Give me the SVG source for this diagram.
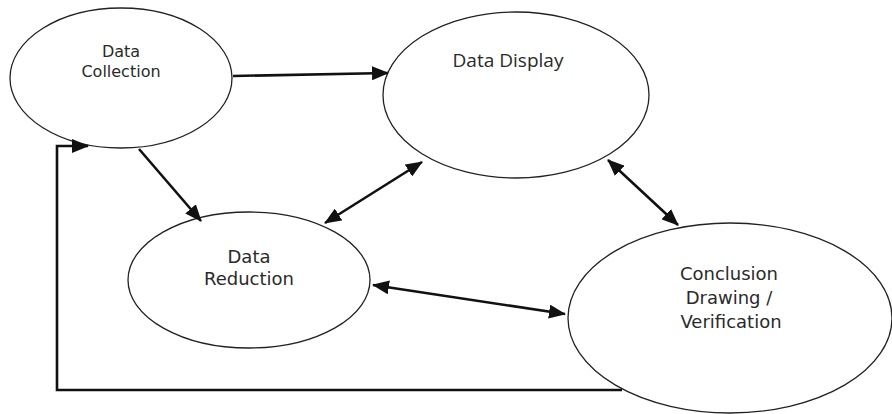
<svg xmlns="http://www.w3.org/2000/svg" width="892" height="414" viewBox="0 0 892 414">
<style>
.node ellipse{fill:#fff;stroke:#222;stroke-width:1.3}
.lbl{font-family:"DejaVu Sans",sans-serif;fill:#2a2a2a;text-anchor:middle}
.disp{font-family:"Open Sans","Noto Sans",sans-serif;fill:#2a2a2a;text-anchor:middle}
.conn path{fill:none;stroke:#111;stroke-width:2.6}
</style>
<defs>
<marker id="ah" viewBox="0 0 17 14" refX="16" refY="7" markerWidth="17" markerHeight="14" markerUnits="userSpaceOnUse" orient="auto-start-reverse">
<path d="M0,0 L17,7 L0,14 z" fill="#111"/>
</marker>
</defs>
<rect width="892" height="414" fill="#fff"/>
<g id="data-collection" class="node">
<ellipse cx="121" cy="78" rx="111" ry="70"/>
<text class="lbl" font-size="16"><tspan x="121" y="57">Data</tspan><tspan x="121" y="77">Collection</tspan></text>
</g>
<g id="data-display" class="node">
<ellipse cx="516" cy="95" rx="133" ry="83"/>
<text class="disp" font-size="19" x="508" y="67" textLength="111" lengthAdjust="spacingAndGlyphs">Data Display</text>
</g>
<g id="data-reduction" class="node">
<ellipse cx="249" cy="280" rx="121" ry="68"/>
<text class="lbl" font-size="18"><tspan x="249" y="263">Data</tspan><tspan x="249" y="285">Reduction</tspan></text>
</g>
<g id="conclusion" class="node">
<ellipse cx="730" cy="318" rx="162" ry="95"/>
<text class="lbl" font-size="18"><tspan x="729" y="280">Conclusion</tspan><tspan x="729" y="304">Drawing /</tspan><tspan x="731" y="328">Verification</tspan></text>
</g>
<g id="connectors" class="conn">
<path d="M233,76 L388,73" marker-end="url(#ah)"/>
<path d="M139,149 L201,221" marker-end="url(#ah)"/>
<path d="M325,223 L422,162" marker-start="url(#ah)" marker-end="url(#ah)"/>
<path d="M608,160 L678,225" marker-start="url(#ah)" marker-end="url(#ah)"/>
<path d="M373,285 L565,314" marker-start="url(#ah)" marker-end="url(#ah)"/>
<path d="M622,390 L57,390 L57,146 L88,146" stroke-width="3" marker-end="url(#ah)"/>
</g>
</svg>
